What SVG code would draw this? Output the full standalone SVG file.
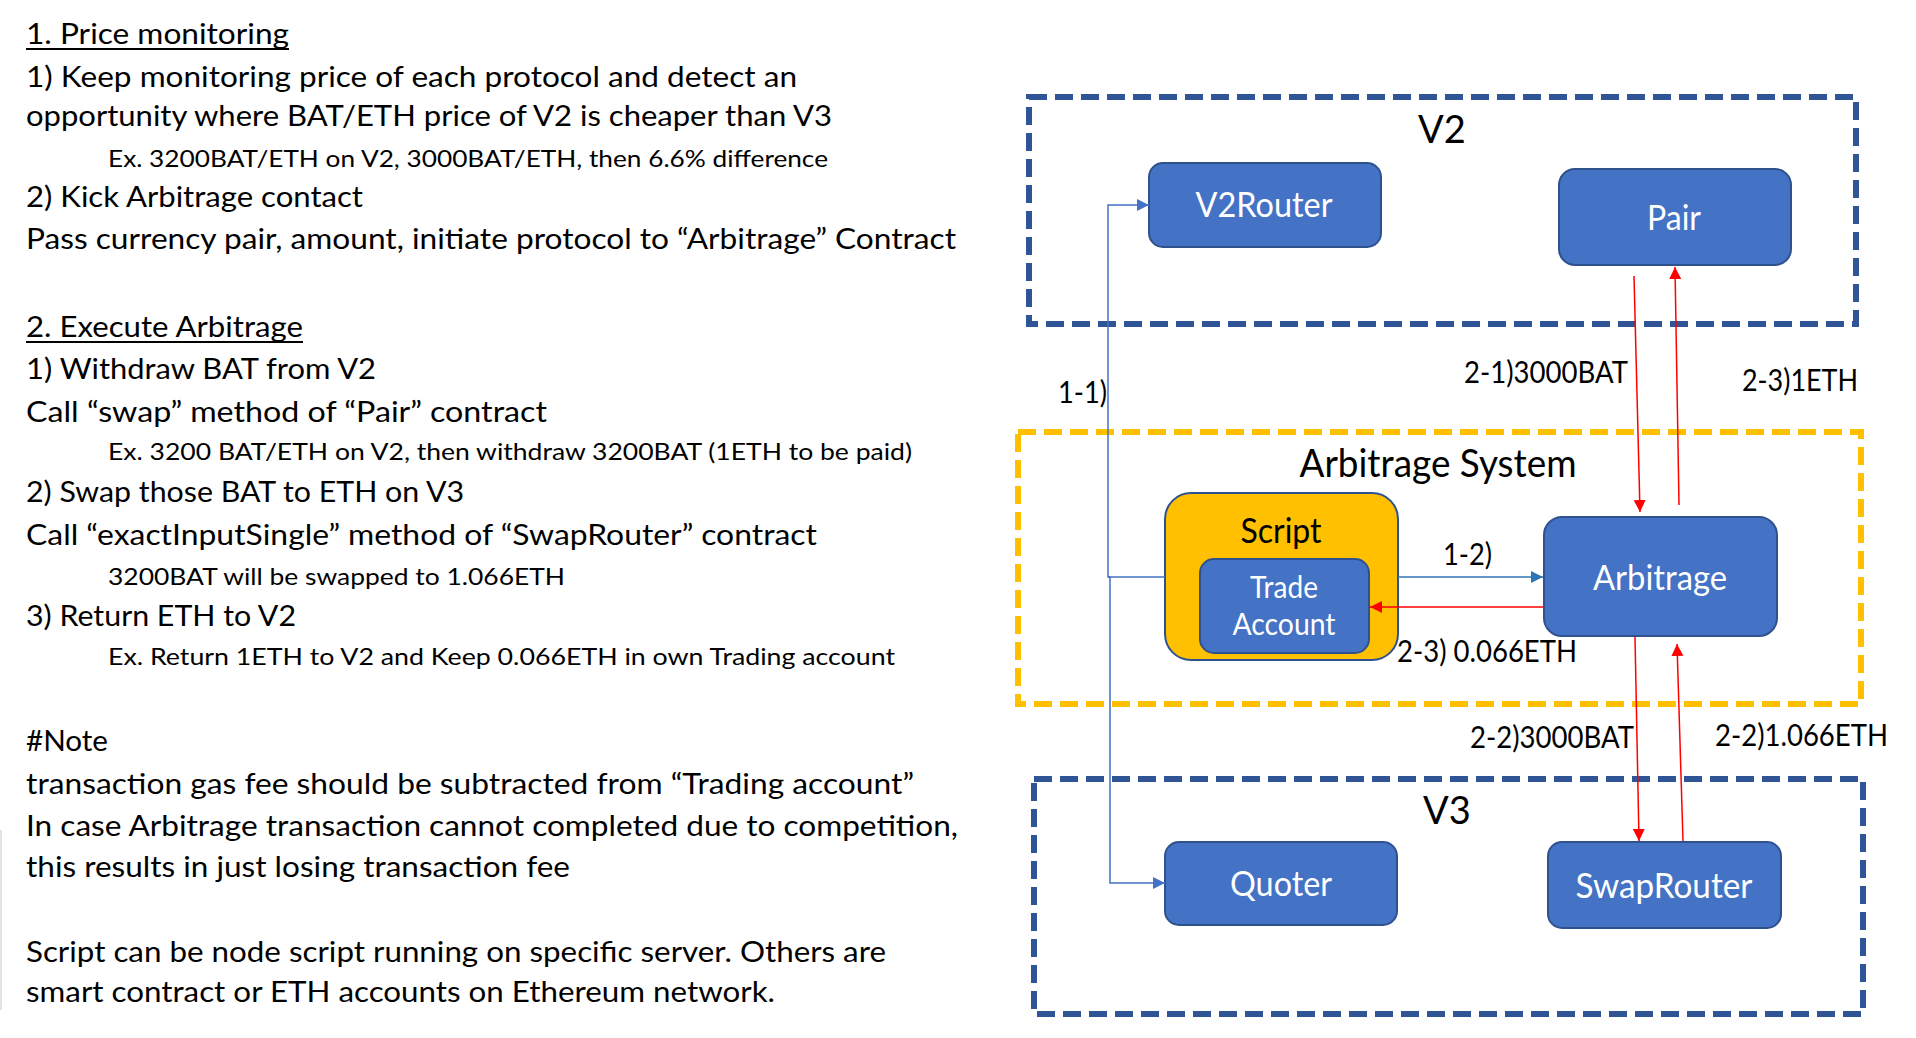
<svg xmlns="http://www.w3.org/2000/svg" width="1916" height="1038" viewBox="0 0 1916 1038">
<style>
text{font-family:Lato,"Liberation Sans",sans-serif;fill:#000}
.t{font-size:28px}
.s{font-size:24px}
.title{font-size:38px;text-anchor:middle}
.lbl{font-size:30px}
.nl{font-size:34px;fill:#fff;text-anchor:middle}
.node{fill:#4472C4;stroke:#2F528F;stroke-width:2}
.grpb{fill:none;stroke:#2F5597;stroke-width:6;stroke-dasharray:18 8}
.grpy{fill:none;stroke:#FFC000;stroke-width:6;stroke-dasharray:18 8}
.red{fill:none;stroke:#FF0000;stroke-width:1.5}
.blue{fill:none;stroke:#4472C4;stroke-width:1.5}
.blue2{fill:none;stroke:#2E75B6;stroke-width:1.5}
.ul{stroke:#000;stroke-width:2}
</style>
<defs>
<marker id="mr" viewBox="0 0 12 12" refX="12" refY="6" markerWidth="12" markerHeight="13" markerUnits="userSpaceOnUse" orient="auto"><path d="M0,0 L12,6 L0,12 z" fill="#FF0000"/></marker>
<marker id="mb" viewBox="0 0 12 12" refX="12" refY="6" markerWidth="12" markerHeight="12" markerUnits="userSpaceOnUse" orient="auto"><path d="M0,0 L12,6 L0,12 z" fill="#4472C4"/></marker>
<marker id="mb2" viewBox="0 0 12 12" refX="12" refY="6" markerWidth="12" markerHeight="12" markerUnits="userSpaceOnUse" orient="auto"><path d="M0,0 L12,6 L0,12 z" fill="#2E75B6"/></marker>
</defs>
<rect width="1916" height="1038" fill="#fff"/>
<line x1="1" y1="830" x2="1" y2="1010" stroke="#e4e4e4" stroke-width="2"/>

<g id="notes">
<text class="t" x="26" y="44" textLength="263" lengthAdjust="spacingAndGlyphs">1. Price monitoring</text>
<line class="ul" x1="26" y1="49" x2="289" y2="49"/>
<text class="t" x="26" y="87" textLength="771" lengthAdjust="spacingAndGlyphs">1) Keep monitoring price of each protocol and detect an</text>
<text class="t" x="26" y="126" textLength="806" lengthAdjust="spacingAndGlyphs">opportunity where BAT/ETH price of V2 is cheaper than V3</text>
<text class="s" x="108" y="167" textLength="720" lengthAdjust="spacingAndGlyphs">Ex. 3200BAT/ETH on V2, 3000BAT/ETH, then 6.6% difference</text>
<text class="t" x="26" y="207" textLength="337" lengthAdjust="spacingAndGlyphs">2) Kick Arbitrage contact</text>
<text class="t" x="26" y="249" textLength="930" lengthAdjust="spacingAndGlyphs">Pass currency pair, amount, initiate protocol to “Arbitrage” Contract</text>
<text class="t" x="26" y="337" textLength="277" lengthAdjust="spacingAndGlyphs">2. Execute Arbitrage</text>
<line class="ul" x1="26" y1="342" x2="303" y2="342"/>
<text class="t" x="26" y="379" textLength="350" lengthAdjust="spacingAndGlyphs">1) Withdraw BAT from V2</text>
<text class="t" x="26" y="422" textLength="521" lengthAdjust="spacingAndGlyphs">Call “swap” method of “Pair” contract</text>
<text class="s" x="108" y="460" textLength="804" lengthAdjust="spacingAndGlyphs">Ex. 3200 BAT/ETH on V2, then withdraw 3200BAT (1ETH to be paid)</text>
<text class="t" x="26" y="502" textLength="438" lengthAdjust="spacingAndGlyphs">2) Swap those BAT to ETH on V3</text>
<text class="t" x="26" y="545" textLength="791" lengthAdjust="spacingAndGlyphs">Call “exactInputSingle” method of “SwapRouter” contract</text>
<text class="s" x="108" y="585" textLength="457" lengthAdjust="spacingAndGlyphs">3200BAT will be swapped to 1.066ETH</text>
<text class="t" x="26" y="626" textLength="270" lengthAdjust="spacingAndGlyphs">3) Return ETH to V2</text>
<text class="s" x="108" y="665" textLength="787" lengthAdjust="spacingAndGlyphs">Ex. Return 1ETH to V2 and Keep 0.066ETH in own Trading account</text>
<text class="t" x="26" y="751" textLength="82" lengthAdjust="spacingAndGlyphs">#Note</text>
<text class="t" x="26" y="794" textLength="888" lengthAdjust="spacingAndGlyphs">transaction gas fee should be subtracted from “Trading account”</text>
<text class="t" x="26" y="836" textLength="932" lengthAdjust="spacingAndGlyphs">In case Arbitrage transaction cannot completed due to competition,</text>
<text class="t" x="26" y="877" textLength="544" lengthAdjust="spacingAndGlyphs">this results in just losing transaction fee</text>
<text class="t" x="26" y="962" textLength="860" lengthAdjust="spacingAndGlyphs">Script can be node script running on specific server. Others are</text>
<text class="t" x="26" y="1002" textLength="749" lengthAdjust="spacingAndGlyphs">smart contract or ETH accounts on Ethereum network.</text>
</g>

<g id="group-v2">
<rect class="grpb" x="1029" y="97" width="827" height="227"/>
<text class="title" x="1442" y="143">V2</text>
</g>
<g id="group-arbitrage-system">
<rect class="grpy" x="1018" y="432" width="843" height="272"/>
<text class="title" x="1438" y="477" textLength="277" lengthAdjust="spacingAndGlyphs">Arbitrage System</text>
</g>
<g id="group-v3">
<rect class="grpb" x="1034" y="779" width="829" height="235"/>
<text class="title" x="1447" y="824">V3</text>
</g>

<g id="node-v2router">
<rect class="node" x="1149" y="163" width="232" height="84" rx="14"/>
<text class="nl" x="1264" y="217" textLength="137" lengthAdjust="spacingAndGlyphs">V2Router</text>
</g>
<g id="node-pair">
<rect class="node" x="1559" y="169" width="232" height="96" rx="16"/>
<text class="nl" x="1674" y="230" textLength="54" lengthAdjust="spacingAndGlyphs">Pair</text>
</g>
<g id="node-script">
<rect x="1165" y="493" width="233" height="167" rx="26" fill="#FFC000" stroke="#2F528F" stroke-width="2"/>
<text x="1281" y="543" font-size="34" text-anchor="middle" textLength="81" lengthAdjust="spacingAndGlyphs">Script</text>
</g>
<g id="node-trade-account">
<rect class="node" x="1200" y="559" width="169" height="94" rx="14"/>
<text class="nl" x="1284" y="598" style="font-size:30px" textLength="68" lengthAdjust="spacingAndGlyphs">Trade</text>
<text class="nl" x="1284" y="635" style="font-size:30px" textLength="103" lengthAdjust="spacingAndGlyphs">Account</text>
</g>
<g id="node-arbitrage">
<rect class="node" x="1544" y="517" width="233" height="119" rx="18"/>
<text class="nl" x="1660" y="590" textLength="134" lengthAdjust="spacingAndGlyphs">Arbitrage</text>
</g>
<g id="node-quoter">
<rect class="node" x="1165" y="842" width="232" height="83" rx="14"/>
<text class="nl" x="1281" y="896" textLength="102" lengthAdjust="spacingAndGlyphs">Quoter</text>
</g>
<g id="node-swaprouter">
<rect class="node" x="1548" y="842" width="233" height="86" rx="14"/>
<text class="nl" x="1664" y="898" textLength="177" lengthAdjust="spacingAndGlyphs">SwapRouter</text>
</g>

<g id="connectors">
<polyline class="blue" points="1165,577 1108,577 1108,205 1149,205" marker-end="url(#mb)"/>
<polyline class="blue" points="1108,577 1110,577 1110,883 1165,883" marker-end="url(#mb)"/>
<line class="blue2" x1="1398" y1="577" x2="1543" y2="577" marker-end="url(#mb2)"/>
<line class="red" x1="1543" y1="607" x2="1370" y2="607" marker-end="url(#mr)"/>
<line class="red" x1="1634" y1="276" x2="1640" y2="512" marker-end="url(#mr)"/>
<line class="red" x1="1679" y1="505" x2="1675" y2="267" marker-end="url(#mr)"/>
<line class="red" x1="1635" y1="637" x2="1639" y2="841" marker-end="url(#mr)"/>
<line class="red" x1="1683" y1="841" x2="1677" y2="644" marker-end="url(#mr)"/>
<text class="lbl" x="1058" y="403" textLength="49" lengthAdjust="spacingAndGlyphs">1-1)</text>
<text class="lbl" x="1443" y="565" textLength="49" lengthAdjust="spacingAndGlyphs">1-2)</text>
<text class="lbl" x="1464" y="383" textLength="164" lengthAdjust="spacingAndGlyphs">2-1)3000BAT</text>
<text class="lbl" x="1742" y="391" textLength="116" lengthAdjust="spacingAndGlyphs">2-3)1ETH</text>
<text class="lbl" x="1397" y="662" textLength="180" lengthAdjust="spacingAndGlyphs">2-3) 0.066ETH</text>
<text class="lbl" x="1470" y="748" textLength="164" lengthAdjust="spacingAndGlyphs">2-2)3000BAT</text>
<text class="lbl" x="1715" y="746" textLength="173" lengthAdjust="spacingAndGlyphs">2-2)1.066ETH</text>
</g>
</svg>
